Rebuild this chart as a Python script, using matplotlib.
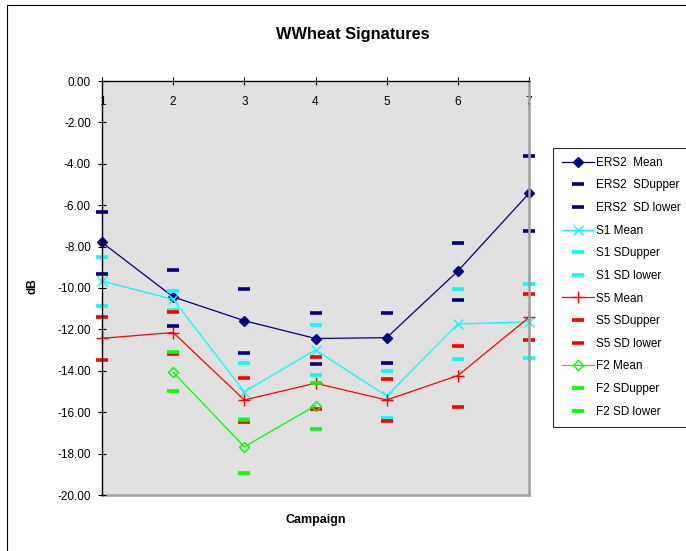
import numpy as np
import matplotlib
matplotlib.use("Agg")
import matplotlib.pyplot as plt
from matplotlib.patches import Rectangle
from matplotlib.ticker import FormatStrFormatter

plt.rcParams['font.family'] = ['Liberation Sans', 'DejaVu Sans']
plt.rcParams['axes.unicode_minus'] = False

campaigns = [1, 2, 3, 4, 5, 6, 7]

ers2_mean = [-7.80, -10.43, -11.58, -12.44, -12.40, -9.18, -5.43]
ers2_sd_upper = [-6.31, -9.15, -10.06, -11.22, -11.22, -7.81, -3.62]
ers2_sd_lower = [-9.31, -11.82, -13.14, -13.67, -13.61, -10.60, -7.23]

s1_mean = [-9.66, -10.55, -15.01, -12.99, -15.22, -11.74, -11.63]
s1_sd_upper = [-8.50, -10.14, -13.61, -11.80, -14.01, -10.06, -9.83]
s1_sd_lower = [-10.87, -11.04, -16.33, -14.18, -16.26, -13.41, -13.38]

s5_mean = [-12.43, -12.15, -15.41, -14.60, -15.41, -14.23, -11.42]
s5_sd_upper = [-11.40, -11.16, -14.37, -13.32, -14.41, -12.79, -10.29]
s5_sd_lower = [-13.48, -13.17, -16.47, -15.86, -16.44, -15.73, -12.50]

nan = np.nan
f2_mean = [nan, -14.07, -17.67, -15.68, nan, nan, nan]
f2_sd_upper = [nan, -13.09, -16.39, -14.60, nan, nan, nan]
f2_sd_lower = [nan, -14.99, -18.92, -16.79, nan, nan, nan]

series = [
    ("ERS2  Mean", ers2_mean, "#000080", "mean", dict(marker="D", ms=5, mfc="#000080", mec="#000080")),
    ("ERS2  SDupper", ers2_sd_upper, "#000080", "sd", {}),
    ("ERS2  SD lower", ers2_sd_lower, "#000080", "sd", {}),
    ("S1 Mean", s1_mean, "#00FFFF", "mean", dict(marker="x", ms=7, mew=1.0, mec="#00FFFF")),
    ("S1 SDupper", s1_sd_upper, "#00FFFF", "sd", {}),
    ("S1 SD lower", s1_sd_lower, "#00FFFF", "sd", {}),
    ("S5 Mean", s5_mean, "#FF0000", "mean", dict(marker="+", ms=9, mew=1.0, mec="#FF0000")),
    ("S5 SDupper", s5_sd_upper, "#FF0000", "sd", {}),
    ("S5 SD lower", s5_sd_lower, "#FF0000", "sd", {}),
    ("F2 Mean", f2_mean, "#00FF00", "mean", dict(marker="D", ms=5, mfc="none", mec="#00FF00", mew=1.0)),
    ("F2 SDupper", f2_sd_upper, "#00FF00", "sd", {}),
    ("F2 SD lower", f2_sd_lower, "#00FF00", "sd", {}),
]

W, H = 686, 551
fig = plt.figure(figsize=(W / 100, H / 100), dpi=100)
fig.patch.set_facecolor("white")

# chart-area border
fig.patches.append(Rectangle((7 / W, -0.05), 1.2, 1 - 5 / H + 0.05, transform=fig.transFigure,
                             fill=False, edgecolor="black", linewidth=0.8))

left, right, top, bottom = 102, 529, 81, 495
ax = fig.add_axes([left / W, 1 - bottom / H, (right - left) / W, (bottom - top) / H])
ax.set_facecolor("#E1E1E1")

handles = []
for label, vals, color, kind, style in series:
    if kind == "mean":
        ln, = ax.plot(campaigns, vals, color=color, lw=0.9, label=label, clip_on=False, **style)
    else:
        ln, = ax.plot(campaigns, vals, ls="none", marker="_", ms=8.5, mew=2.6,
                      color=color, label=label, clip_on=False)
    handles.append(ln)

ax.set_xlim(1, 7)
ax.set_ylim(-20, 0)
ax.set_xticks(campaigns)
ax.set_yticks(np.arange(-20, 0.1, 2))
ax.yaxis.set_major_formatter(FormatStrFormatter("%.2f"))

# category axis crosses at 0 (top of the plot)
ax.spines["bottom"].set_position(("data", 0))
ax.spines["bottom"].set_color("black")
ax.spines["bottom"].set_linewidth(1.0)
ax.spines["left"].set_color("black")
ax.spines["left"].set_linewidth(1.0)
ax.spines["top"].set_visible(False)
ax.spines["right"].set_color("#A0A0A0")
ax.spines["right"].set_linewidth(1.8)
ax.axhline(-20, color="#A0A0A0", lw=1.8, clip_on=False, zorder=0.5)

ax.tick_params(axis="x", direction="inout", length=6, width=0.8, pad=8, labelsize=8.5)
ax.tick_params(axis="y", direction="inout", length=6, width=0.8, pad=5, labelsize=8.5)

ax.set_ylabel("dB", fontsize=8.5, fontweight="bold", labelpad=0)
ax.yaxis.set_label_coords(38 / W, 1 - 286 / H, transform=fig.transFigure)

fig.text((left + right) / 2 / W, 1 - 520 / H, "Campaign", ha="center", va="center",
         fontsize=9, fontweight="bold")
fig.text(353 / W, 1 - 35 / H, "WWheat Signatures", ha="center", va="center",
         fontsize=11.8, fontweight="bold")

leg = fig.legend(handles=handles, loc="upper left", bbox_to_anchor=(553 / W, 1 - 148 / H),
                 frameon=True, fancybox=False, fontsize=8.5, handlelength=2.7,
                 handletextpad=0.2, labelspacing=0.9, borderpad=0.75, borderaxespad=0,
                 numpoints=1)
leg.get_frame().set_edgecolor("black")
leg.get_frame().set_linewidth(0.8)

fig.savefig("out.png", dpi=100)
